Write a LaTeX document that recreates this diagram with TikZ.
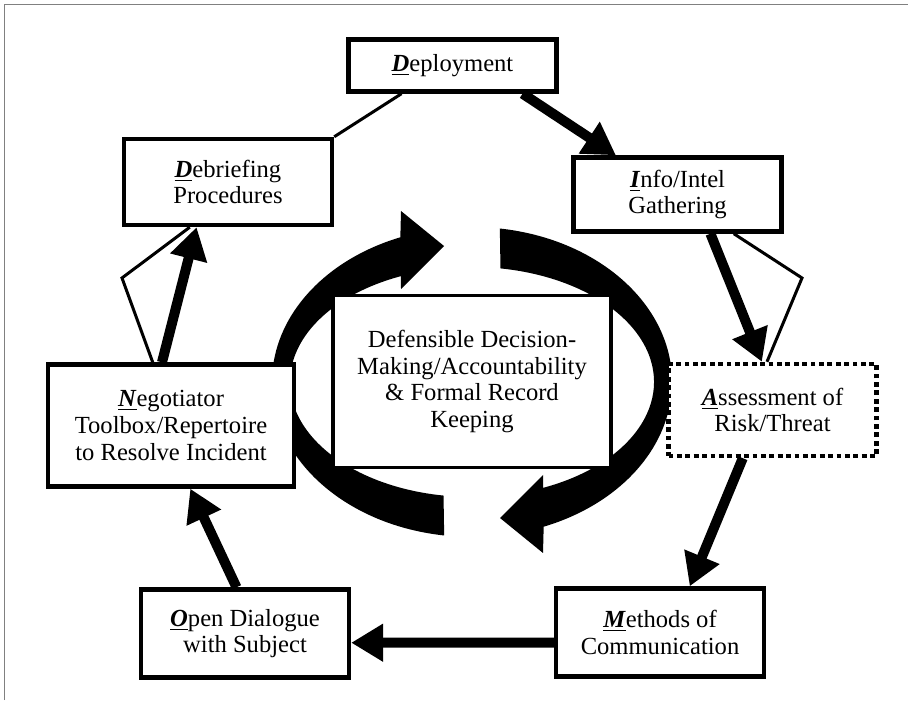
\documentclass[tikz,border=0pt]{standalone}
\usepackage{fontspec}
\setmainfont{Liberation Serif}
\usetikzlibrary{arrows.meta,calc}
\newcommand{\firstl}[1]{\underline{\textbf{\textit{#1}}}}

\begin{document}
\begin{tikzpicture}[x=0.5pt,y=0.5pt,
   box/.style={draw,line width=2.2pt,fill=white,align=center,inner sep=2pt,font=\fontsize{12.3}{13.3}\selectfont},
   dotbox/.style={box,dash pattern=on 2.4pt off 1.8pt},
   hub/.style={box,line width=1.6pt},
   flow/.style={line width=5pt,-{Triangle[length=16pt,width=18pt]}},
   link/.style={line width=1.5pt}]
   \useasboundingbox (0,0) rectangle (908,700);
   \draw[gray,line width=.5pt] (4,0) -- (4,695) -- (908,695);
   % the two curved arrows round the centre
   \foreach \r in {0,180}
     \fill[shift={(472,318)},rotate=\r] (82:200 and 155)
        arc[start angle=82,end angle=-69,x radius=200,y radius=155]
        -- (71,-171) -- (28,-136) -- (71,-93) -- (-67:182 and 115)
        arc[start angle=-67,end angle=81,x radius=182,y radius=115] -- cycle;
   \node[box,minimum width=104pt,minimum height=26pt] (dep) at (452.5,634.5) {\firstl{D}eployment};
   \node[box,minimum width=104pt,minimum height=43pt] (deb) at (228,518) {\firstl{D}ebriefing\\Procedures};
   \node[box,minimum width=104pt,minimum height=37pt] (inf) at (677.5,505.5) {\firstl{I}nfo/Intel\\Gathering};
   \node[dotbox,minimum width=104pt,minimum height=46pt] (ass) at (772.5,290) {\firstl{A}ssessment of\\Risk/Threat};
   \node[box,minimum width=104pt,minimum height=44pt] (met) at (660,67.5) {\firstl{M}ethods of\\Communication};
   \node[box,minimum width=104pt,minimum height=44pt] (opn) at (245,66.5) {\firstl{O}pen Dialogue\\with Subject};
   \node[box,minimum width=123pt,minimum height=61pt] (neg) at (171,274.5) {\firstl{N}egotiator\\Toolbox/Repertoire\\to Resolve Incident};
   \node[hub,minimum width=139pt,minimum height=86pt] (dec) at (472,318.5) {Defensible Decision-\\Making/Accountability\\\& Formal Record\\Keeping};
   \coordinate (kinkR) at (802,422);
   \coordinate (kinkL) at (122,422);
   % connectors
   \draw[link] ($(dep.south west)!.26!(dep.south east)$) -- (deb.north east);
   \draw[flow] ($(dep.south west)!.83!(dep.south east)$) -- ($(inf.north west)!.21!(inf.north east)$);
   \draw[flow] ($(inf.south west)!.655!(inf.south east)$) -- ($(ass.north west)!.45!(ass.north east)$);
   \draw[link] ($(inf.south west)!.765!(inf.south east)$) -- (kinkR) -- ($(ass.north west)!.474!(ass.north east)$);
   \draw[flow] ($(ass.south west)!.36!(ass.south east)$) -- ($(met.north west)!.64!(met.north east)$);
   \draw[flow] ($(met.south west)!.39!(met.north west)$) -- ($(opn.south east)!.4!(opn.north east)$);
   \draw[flow] ($(opn.north west)!.46!(opn.north east)$) -- ($(neg.south west)!.577!(neg.south east)$);
   \draw[flow] ($(neg.north west)!.464!(neg.north east)$) -- ($(deb.south west)!.352!(deb.south east)$);
   \draw[link] ($(neg.north west)!.427!(neg.north east)$) -- (kinkL) -- ($(deb.south west)!.32!(deb.south east)$);
\end{tikzpicture}
\end{document}
